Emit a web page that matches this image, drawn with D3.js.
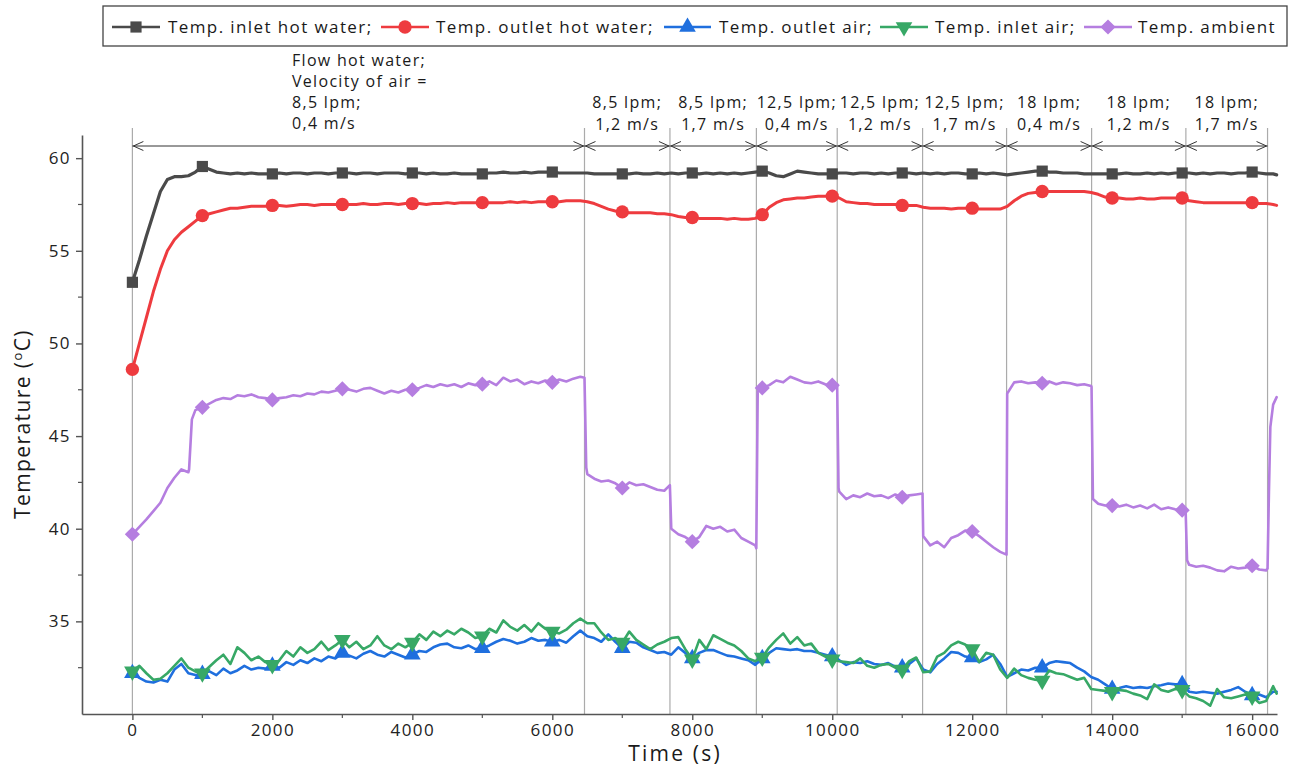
<!DOCTYPE html>
<html><head><meta charset="utf-8">
<script src="https://cdn.jsdelivr.net/npm/d3@7"></script>
<style>
body{margin:0;background:#fff;}
svg{display:block;font-family:"Open Sans",sans-serif;}
</style>
</head><body>
<svg id="chart" width="1295" height="769"></svg>
<script>
// ---------------- DATA ----------------
const timeGrid = d3.range(0, 16301, 100).concat([16350]);

const inletHotWater = [
53.3,54.5,55.8,57.0,58.2,58.85,59.0,59.0,59.05,59.25,
59.55,59.4,59.25,59.2,59.15,59.2,59.15,59.2,59.15,59.15,
59.15,59.2,59.15,59.2,59.2,59.15,59.2,59.2,59.15,59.2,
59.2,59.2,59.15,59.2,59.2,59.15,59.2,59.2,59.2,59.15,
59.2,59.2,59.15,59.2,59.15,59.15,59.2,59.15,59.15,59.15,
59.15,59.2,59.2,59.25,59.2,59.2,59.25,59.2,59.25,59.25,
59.25,59.2,59.2,59.2,59.2,59.2,59.15,59.15,59.15,59.15,
59.15,59.15,59.2,59.15,59.15,59.2,59.15,59.2,59.15,59.2,
59.2,59.15,59.2,59.15,59.2,59.15,59.2,59.15,59.2,59.25,
59.3,59.2,59.05,59.0,59.15,59.3,59.25,59.2,59.15,59.15,
59.15,59.2,59.2,59.15,59.2,59.2,59.15,59.2,59.15,59.2,
59.2,59.2,59.15,59.2,59.15,59.2,59.15,59.2,59.2,59.15,
59.15,59.2,59.15,59.2,59.15,59.1,59.15,59.2,59.25,59.3,
59.3,59.25,59.25,59.2,59.2,59.2,59.15,59.15,59.15,59.15,
59.15,59.15,59.2,59.15,59.15,59.2,59.15,59.2,59.15,59.2,
59.2,59.2,59.15,59.2,59.15,59.2,59.2,59.15,59.2,59.2,
59.25,59.2,59.15,59.15,59.1
];

const outletHotWater = [
48.6,50.0,51.4,52.8,54.0,55.0,55.6,56.0,56.3,56.6,
56.9,57.0,57.1,57.2,57.3,57.3,57.35,57.4,57.4,57.4,
57.45,57.45,57.4,57.45,57.5,57.5,57.45,57.5,57.5,57.5,
57.5,57.5,57.5,57.55,57.5,57.5,57.55,57.55,57.5,57.55,
57.55,57.55,57.5,57.55,57.55,57.6,57.55,57.6,57.6,57.6,
57.6,57.6,57.6,57.6,57.65,57.6,57.65,57.6,57.65,57.65,
57.65,57.65,57.7,57.7,57.7,57.65,57.55,57.4,57.25,57.15,
57.1,57.05,57.05,57.05,57.05,57.0,57.0,56.95,56.85,56.8,
56.8,56.75,56.75,56.75,56.75,56.7,56.75,56.7,56.7,56.75,
56.95,57.35,57.6,57.75,57.8,57.85,57.85,57.9,57.95,57.95,
57.95,57.85,57.65,57.6,57.55,57.55,57.5,57.5,57.5,57.5,
57.45,57.45,57.45,57.35,57.3,57.3,57.3,57.25,57.3,57.3,
57.3,57.25,57.25,57.25,57.25,57.4,57.7,57.95,58.1,58.15,
58.2,58.2,58.2,58.2,58.2,58.2,58.2,58.15,58.05,57.9,
57.85,57.85,57.8,57.8,57.85,57.8,57.8,57.85,57.85,57.85,
57.85,57.7,57.65,57.6,57.6,57.6,57.6,57.6,57.6,57.6,
57.6,57.55,57.55,57.5,57.45
];

const outletAir = [
32.2,31.95,31.75,31.7,31.85,31.75,32.4,32.7,32.2,32.1,
32.15,32.3,32.1,32.45,32.2,32.35,32.6,32.4,32.5,32.45,
32.6,32.5,32.8,32.65,32.9,32.75,33.0,32.85,33.1,33.0,
33.3,33.15,33.0,33.25,33.4,33.2,33.1,33.35,33.2,33.05,
33.2,33.4,33.35,33.6,33.75,33.8,33.6,33.55,33.7,33.5,
33.55,33.7,33.9,34.05,33.95,33.8,33.9,34.1,33.95,34.0,
33.9,34.0,33.85,34.2,34.5,34.2,34.1,33.9,34.3,33.9,
33.55,33.9,33.85,33.6,33.45,33.3,33.35,33.2,33.6,33.3,
33.0,33.3,33.45,33.45,33.3,33.15,33.1,33.0,32.9,32.65,
33.0,33.3,33.55,33.5,33.45,33.5,33.4,33.4,33.3,33.2,
33.1,32.9,32.65,32.8,32.75,32.85,32.7,32.65,32.75,32.55,
32.5,32.7,33.0,32.4,32.25,32.7,33.0,33.35,33.3,33.1,
33.05,32.8,32.95,33.2,32.7,32.0,32.2,32.4,32.35,32.5,
32.5,32.75,32.85,32.8,32.75,32.5,32.3,32.0,31.85,31.6,
31.35,31.4,31.5,31.4,31.45,31.4,31.5,31.55,31.65,31.6,
31.6,31.2,31.15,31.2,31.15,31.1,31.2,31.3,31.45,31.2,
31.0,31.05,30.9,31.2,31.2
];

const inletAir = [
32.3,32.6,32.2,31.85,31.9,32.2,32.6,33.0,32.5,32.3,
32.2,32.55,32.9,33.2,32.7,33.6,33.3,32.9,33.1,32.8,
32.65,32.9,33.4,33.1,33.6,33.3,33.5,33.9,33.45,33.7,
34.0,33.6,33.9,33.5,33.7,34.2,33.7,33.5,33.8,33.6,
33.85,34.3,34.0,34.45,34.2,34.5,34.3,34.6,34.4,34.1,
34.2,34.6,34.4,35.05,34.7,34.5,34.8,34.45,34.9,34.6,
34.45,34.35,34.55,34.9,35.15,34.9,34.9,34.4,34.0,34.1,
33.85,34.45,34.0,33.75,33.5,33.75,33.9,34.1,34.15,33.5,
32.95,34.0,33.5,34.25,34.05,33.85,33.7,33.4,33.0,32.85,
33.05,33.6,34.0,34.35,33.8,34.15,33.7,33.8,33.3,33.1,
32.95,32.85,32.8,32.75,33.0,32.6,32.5,32.65,32.7,32.5,
32.4,32.85,33.05,32.25,32.3,33.1,33.3,33.7,33.9,33.75,
33.5,32.8,33.3,33.2,32.4,31.95,32.45,32.1,31.95,31.85,
31.8,32.35,32.2,32.15,32.0,31.85,31.95,31.35,31.3,31.25,
31.2,31.3,31.25,31.1,31.0,30.8,31.6,31.3,31.2,31.35,
31.3,30.95,30.85,30.7,30.45,31.35,30.9,30.85,30.95,31.05,
30.95,30.6,30.7,31.5,31.1
];

const ambientExtraTimes = [810,850,6460,6485,7680,8915,8935,10070,10090,11290,12490,13705,13725,15050,15070,16220,16240,16260];
const ambientTimes = timeGrid.concat(ambientExtraTimes).sort((a,b)=>a-b);
const ambient = [
39.7,40.1,40.5,40.95,41.4,42.2,42.75,43.2,43.05,43.2,45.9,46.4,
46.55,46.75,46.95,47.05,47.0,47.2,47.15,47.25,47.1,47.05,
46.95,47.05,47.1,47.2,47.15,47.3,47.25,47.4,47.35,47.45,
47.55,47.5,47.4,47.55,47.6,47.45,47.3,47.45,47.35,47.5,
47.5,47.6,47.75,47.65,47.8,47.7,47.8,47.65,47.85,47.75,
47.8,47.95,47.75,48.15,47.95,48.05,47.8,47.95,47.85,48.0,
47.9,48.05,47.95,48.1,48.2,48.15,43.3,42.95,42.7,42.55,42.6,42.45,
42.2,42.5,42.35,42.4,42.25,42.1,42.05,42.35,40.0,39.7,39.55,
39.3,39.55,40.15,40.0,40.1,39.85,39.95,39.5,39.3,39.1,38.95,47.4,
47.6,47.75,48.0,47.9,48.2,48.05,47.9,47.85,47.95,47.8,
47.75,47.8,42.2,42.0,41.6,41.8,41.7,41.9,41.75,41.8,41.65,41.85,
41.7,41.8,41.85,41.9,39.6,39.1,39.3,39.0,39.5,39.65,39.9,
39.85,39.6,39.3,39.0,38.75,38.6,47.3,47.9,47.95,47.85,47.9,
47.85,47.95,47.8,47.9,47.85,47.75,47.8,47.7,47.65,41.6,41.35,41.25,
41.25,41.2,41.3,41.15,41.25,41.1,41.3,41.05,41.15,41.05,
41.0,40.9,38.3,38.05,37.95,38.0,37.9,37.75,37.7,37.95,37.85,37.9,
38.0,37.8,37.75,37.85,42.0,45.5,46.7,47.1
];

const seriesNames = ["Temp. inlet hot water;","Temp. outlet hot water;","Temp. outlet air;","Temp. inlet air;","Temp. ambient"];
const seriesColors = ["#4a4a4a","#ee3b3f","#1f6fde","#37a866","#b57ee0"];

const boundaries = [0,6460,7681,8916,10071,11291,12491,13706,15053,16220];
const firstLabel = ["Flow hot water;","Velocity of air =","8,5 lpm;","0,4 m/s"];
const segmentLabels = [
  ["8,5 lpm;","1,2 m/s"],["8,5 lpm;","1,7 m/s"],["12,5 lpm;","0,4 m/s"],["12,5 lpm;","1,2 m/s"],
  ["12,5 lpm;","1,7 m/s"],["18 lpm;","0,4 m/s"],["18 lpm;","1,2 m/s"],["18 lpm;","1,7 m/s"]
];
const xTicks = [0,2000,4000,6000,8000,10000,12000,14000,16000];
const xMinor = [1000,3000,5000,7000,9000,11000,13000,15000];
const yTicks = [35,40,45,50,55,60];
const yMinor = [32.5,37.5,42.5,47.5,52.5,57.5];

// ---------------- CHART ----------------
const svg = d3.select("#chart");
const L=82, R=1277, T=135, B=714;
const x = d3.scaleLinear().domain([-720,16355]).range([L,R]);
const y = d3.scaleLinear().domain([30,61.25]).range([B,T]);

// separator lines
svg.append("g").selectAll("line").data(boundaries).join("line")
  .attr("x1",d=>x(d)).attr("x2",d=>x(d)).attr("y1",128).attr("y2",B)
  .attr("stroke","#ababab").attr("stroke-width",1.2);

// arrows
const arrowY = 146;
const ag = svg.append("g").attr("stroke","#333").attr("stroke-width",1).attr("fill","none");
for(let i=0;i<boundaries.length-1;i++){
  const a=x(boundaries[i]), b=x(boundaries[i+1]);
  ag.append("line").attr("x1",a).attr("x2",b).attr("y1",arrowY).attr("y2",arrowY);
  ag.append("path").attr("d",`M${a+11},${arrowY-4.5}L${a+1},${arrowY}L${a+11},${arrowY+4.5}`);
  ag.append("path").attr("d",`M${b-11},${arrowY-4.5}L${b-1},${arrowY}L${b-11},${arrowY+4.5}`);
}

// annotation text
const annStyle = sel => sel.attr("font-size",16).attr("letter-spacing",1.3).attr("fill","#1a1a1a");
const fl = svg.append("text").call(annStyle).attr("x",292);
firstLabel.forEach((t,i)=>fl.append("tspan").attr("x",292).attr("y",65.5+i*21.3).text(t));
segmentLabels.forEach((lab,i)=>{
  const cx=(x(boundaries[i+1])+x(boundaries[i+2]))/2;
  const t=svg.append("text").call(annStyle).attr("text-anchor","middle");
  lab.forEach((s,j)=>t.append("tspan").attr("x",cx).attr("y",108+j*21.5).text(s));
});

// axes
const axisColor="#555";
const yAxis = svg.append("g").attr("transform",`translate(${L},0)`)
  .call(d3.axisLeft(y).tickValues(yTicks).tickFormat(d3.format("d")).tickSize(6).tickSizeOuter(0).tickPadding(5));
const xAxis = svg.append("g").attr("transform",`translate(0,${B})`)
  .call(d3.axisBottom(x).tickValues(xTicks).tickFormat(d3.format("d")).tickSize(6).tickSizeOuter(0).tickPadding(4));
[yAxis,xAxis].forEach(g=>{
  g.select(".domain").attr("stroke",axisColor).attr("stroke-width",1.6);
  g.selectAll(".tick line").attr("stroke",axisColor).attr("stroke-width",1.4);
  g.selectAll("text").attr("font-size",17).attr("letter-spacing",1.4).attr("fill","#222")
   .attr("font-family","Open Sans, sans-serif");
});
svg.append("g").selectAll("line").data(yMinor).join("line")
  .attr("x1",L).attr("x2",L-4).attr("y1",d=>y(d)).attr("y2",d=>y(d))
  .attr("stroke",axisColor).attr("stroke-width",1.2);
svg.append("g").selectAll("line").data(xMinor).join("line")
  .attr("y1",B).attr("y2",B+4).attr("x1",d=>x(d)).attr("x2",d=>x(d))
  .attr("stroke",axisColor).attr("stroke-width",1.2);

// axis titles
svg.append("text").attr("x",675).attr("y",761).attr("text-anchor","middle")
  .attr("font-size",21).attr("letter-spacing",2.2).attr("fill","#1a1a1a").text("Time (s)");
const yt = svg.append("text").attr("transform","translate(30,424) rotate(-90)")
  .attr("text-anchor","middle").attr("font-size",21).attr("letter-spacing",1.4).attr("fill","#1a1a1a");
yt.append("tspan").text("Temperature (");
yt.append("tspan").attr("font-size",13).attr("dy",-8).text("o");
yt.append("tspan").attr("dy",8).text("C)");

// series
const seriesData = [
  {t:timeGrid, v:inletHotWater, sym:"square", w:3.2},
  {t:timeGrid, v:outletHotWater, sym:"circle", w:3},
  {t:timeGrid, v:outletAir, sym:"tri", w:2.6},
  {t:timeGrid, v:inletAir, sym:"tridown", w:2.6},
  {t:ambientTimes, v:ambient, sym:"diamond", w:2.6}
];
function symPath(sym){
  if(sym==="square") return d3.symbol(d3.symbolSquare, 125)();
  if(sym==="circle") return d3.symbol(d3.symbolCircle, 140)();
  if(sym==="tri" || sym==="tridown") return d3.symbol(d3.symbolTriangle, 120)();
  if(sym==="diamond") return d3.symbol(d3.symbolSquare, 115)();
}
function symTransform(sym){
  if(sym==="tridown") return " rotate(180)";
  if(sym==="diamond") return " rotate(45)";
  return "";
}
const line = d3.line().x(d=>x(d[0])).y(d=>y(d[1]));
seriesData.forEach((s,i)=>{
  const n=Math.min(s.t.length,s.v.length);
  const pts=d3.range(n).map(k=>[s.t[k],s.v[k]]);
  const g=svg.append("g");
  g.append("path").datum(pts).attr("d",line).attr("fill","none")
    .attr("stroke",seriesColors[i]).attr("stroke-width",s.w)
    .attr("stroke-linejoin","round").attr("stroke-linecap","round");
  g.selectAll("path.m").data(pts.filter(p=>p[0]%1000===0)).join("path").attr("class","m")
    .attr("d",symPath(s.sym))
    .attr("transform",p=>`translate(${x(p[0])},${y(p[1])})`+symTransform(s.sym))
    .attr("fill",seriesColors[i]);
});

// legend
svg.append("rect").attr("x",103).attr("y",6).attr("width",1184).attr("height",40)
  .attr("fill","#fff").attr("stroke","#444").attr("stroke-width",1.3);
const legPos=[[112,160,168],[381,429,436],[664,711,719],[880,928,935],[1084,1132,1138]];
seriesNames.forEach((name,i)=>{
  const [a,b,tx]=legPos[i], cy=27;
  svg.append("line").attr("x1",a).attr("x2",b).attr("y1",cy).attr("y2",cy)
    .attr("stroke",seriesColors[i]).attr("stroke-width",2.6);
  svg.append("path").attr("d",symPath(seriesData[i].sym))
    .attr("transform",`translate(${(a+b)/2},${cy})`+symTransform(seriesData[i].sym))
    .attr("fill",seriesColors[i]);
  svg.append("text").attr("x",tx).attr("y",cy+6).attr("font-size",17).attr("letter-spacing",1.4)
    .attr("fill","#1a1a1a").text(name);
});
</script>
</body></html>
